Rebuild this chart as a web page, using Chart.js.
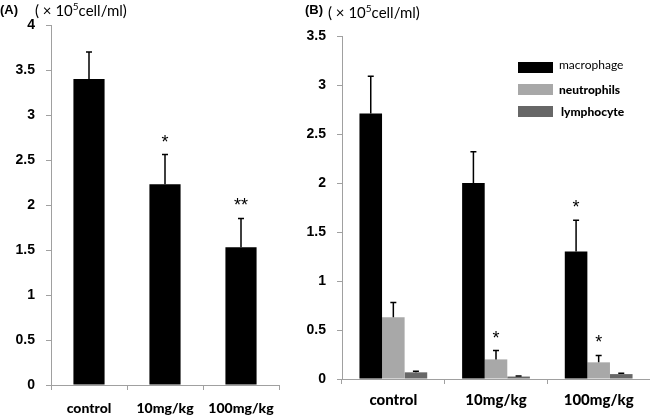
<!DOCTYPE html>
<html>
<head>
<meta charset="utf-8">
<script src="https://cdn.jsdelivr.net/npm/chart.js@4"></script>
<style>
  html, body { margin: 0; padding: 0; background: #fff; }
  body { width: 650px; height: 415px; position: relative; overflow: hidden; font-family: Lato, "Open Sans", sans-serif; }
  .box { position: absolute; }
  .t { position: absolute; white-space: nowrap; color: #000; }
  .lg { position: absolute; width: 35px; height: 11px; }
  .bt { font-family: "Liberation Sans", Arial, sans-serif; font-weight: bold; }
</style>
</head>
<body>
<div class="box" style="left:0;top:0;width:290px;height:415px"><canvas id="ca"></canvas></div>
<div class="box" style="left:295px;top:0;width:355px;height:415px"><canvas id="cb"></canvas></div>

<div class="t bt" style="left:0;top:2px;font-size:13px;">(A)</div>
<div class="t" style="left:35px;top:0px;font-size:15px;">( × 10<sup style="font-size:10px;">5</sup>cell/ml)</div>
<div class="t bt" style="left:305px;top:2px;font-size:13px;">(B)</div>
<div class="t" style="left:328px;top:2px;font-size:15px;">( × 10<sup style="font-size:10px;">5</sup>cell/ml)</div>

<div class="lg" style="left:518px;top:62px;background:#000;"></div>
<div class="lg" style="left:518px;top:84px;background:#a8a8a8;"></div>
<div class="lg" style="left:518px;top:106px;background:#676767;"></div>
<div class="t" style="left:559px;top:57px;font-size:12px;">macrophage</div>
<div class="t" style="left:559px;top:82px;font-size:12px;font-weight:900;">neutrophils</div>
<div class="t" style="left:561px;top:104px;font-size:12px;font-weight:900;">lymphocyte</div>

<script>
// ---- data ----
const categories = ['control', '10mg/kg', '100mg/kg'];

// Panel A: total cells
const totalA = [3.40, 2.23, 1.53];
const totalErrA = [0.30, 0.33, 0.32];
const totalSigA = ['', '*', '**'];
const ticksA = [0, 0.5, 1, 1.5, 2, 2.5, 3, 3.5, 4];

// Panel B: cell types
const macrophage = [2.71, 2.00, 1.30];
const macrophageErr = [0.38, 0.32, 0.32];
const macrophageSig = ['', '', '*'];
const neutrophils = [0.63, 0.20, 0.17];
const neutrophilsErr = [0.15, 0.09, 0.07];
const neutrophilsSig = ['', '*', '*'];
const lymphocyte = [0.068, 0.025, 0.05];
const lymphocyteErr = [0.012, 0.006, 0.008];
const lymphocyteSig = ['', '', ''];
const ticksB = [0, 0.5, 1, 1.5, 2, 2.5, 3, 3.5];

const FONT = 'Lato, "Open Sans", sans-serif';
const NUMFONT = '"Liberation Sans", Arial, sans-serif';
const AXIS = '#a0a0a0';

Chart.defaults.color = '#000';

const errPlugin = {
  id: 'errbars',
  afterDatasetsDraw(chart) {
    const ctx = chart.ctx;
    const y = chart.scales.y;
    ctx.save();
    chart.data.datasets.forEach((ds, di) => {
      const meta = chart.getDatasetMeta(di);
      meta.data.forEach((bar, i) => {
        const v = ds.data[i], e = ds.errors[i];
        const yb = y.getPixelForValue(v), yt = y.getPixelForValue(v + e);
        ctx.strokeStyle = '#000';
        ctx.lineWidth = 1.5;
        ctx.beginPath();
        ctx.moveTo(bar.x, yb); ctx.lineTo(bar.x, yt);
        ctx.moveTo(bar.x - 3, yt); ctx.lineTo(bar.x + 3, yt);
        ctx.stroke();
        if (ds.sig[i]) {
          ctx.fillStyle = '#000';
          ctx.font = '18px ' + NUMFONT;
          ctx.textAlign = 'center';
          ctx.textBaseline = 'middle';
          ctx.fillText(ds.sig[i], bar.x, yt - 12);
        }
      });
    });
    ctx.restore();
  }
};

function xScale(fontSize, pad, h) {
  return {
    offset: true,
    grid: { offset: true, drawOnChartArea: false, drawTicks: true, tickLength: 5, color: AXIS },
    border: { color: AXIS, width: 1 },
    ticks: { color: '#000', font: { family: FONT, size: fontSize, weight: '900' }, padding: pad, maxRotation: 0 },
    afterFit(s) { s.height = h; }
  };
}
function yScale(tickVals, w) {
  return {
    type: 'linear',
    min: tickVals[0], max: tickVals[tickVals.length - 1],
    grid: { drawOnChartArea: false, drawTicks: true, tickLength: 5, color: AXIS },
    border: { color: AXIS, width: 1 },
    ticks: {
      stepSize: tickVals[1] - tickVals[0],
      color: '#000',
      font: { family: NUMFONT, size: 14, weight: 'bold' },
      padding: 11,
      callback: function (v) { return tickVals.includes(v) ? String(v) : ''; }
    },
    afterFit(s) { s.width = w; }
  };
}

new Chart(document.getElementById('ca'), {
  type: 'bar',
  data: {
    labels: categories,
    datasets: [{ data: totalA, errors: totalErrA, sig: totalSigA, backgroundColor: '#000', categoryPercentage: 1, barPercentage: 0.41 }]
  },
  options: {
    responsive: true, maintainAspectRatio: false, animation: false,
    layout: { padding: { top: 25, left: 0, right: 11, bottom: 0 } },
    plugins: { legend: { display: false }, tooltip: { enabled: false } },
    scales: { x: xScale(14, 10, 30), y: yScale(ticksA, 51) }
  },
  plugins: [errPlugin]
});

new Chart(document.getElementById('cb'), {
  type: 'bar',
  data: {
    labels: categories,
    datasets: [
      { label: 'macrophage', data: macrophage, errors: macrophageErr, sig: macrophageSig, backgroundColor: '#000' },
      { label: 'neutrophils', data: neutrophils, errors: neutrophilsErr, sig: neutrophilsSig, backgroundColor: '#a8a8a8' },
      { label: 'lymphocyte', data: lymphocyte, errors: lymphocyteErr, sig: lymphocyteSig, backgroundColor: '#676767' }
    ]
  },
  options: {
    responsive: true, maintainAspectRatio: false, animation: false,
    datasets: { bar: { categoryPercentage: 0.66, barPercentage: 1 } },
    layout: { padding: { top: 36, left: 0, right: 0, bottom: 0 } },
    plugins: { legend: { display: false }, tooltip: { enabled: false } },
    scales: { x: xScale(15, 7, 36), y: yScale(ticksB, 47) }
  },
  plugins: [errPlugin]
});
</script>
</body>
</html>
